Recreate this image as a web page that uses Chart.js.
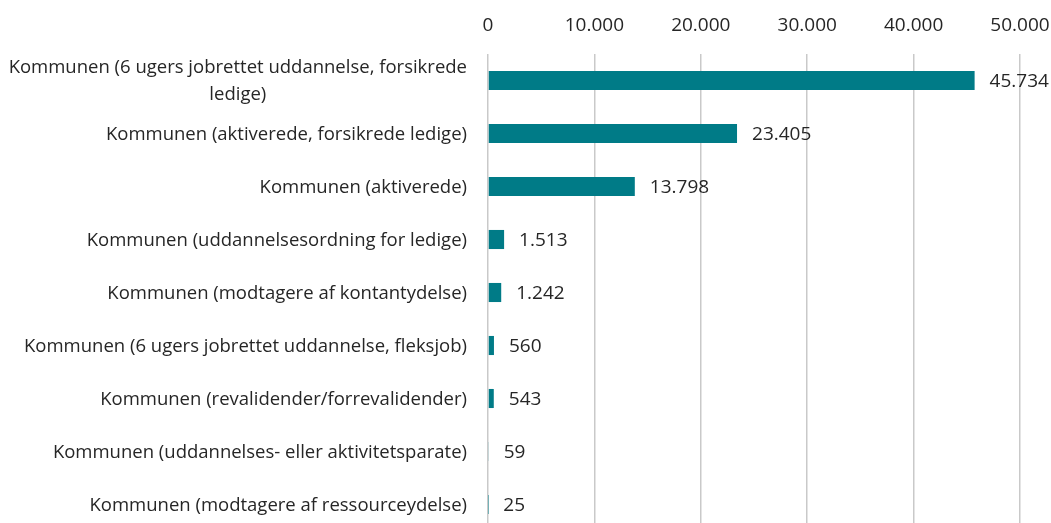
<!DOCTYPE html>
<html>
<head>
<meta charset="utf-8">
<script src="https://cdn.jsdelivr.net/npm/chart.js@4/dist/chart.umd.min.js"></script>
<style>
    html, body { margin: 0; padding: 0; background: #fff; overflow: hidden; }
    #wrap { width: 1051px; height: 531px; position: relative; }
</style>
</head>
<body>
<div id="wrap"><canvas id="barChart"></canvas></div>
<script>
// Kategorier og værdier
const kategorier = [
    ["Kommunen (6 ugers jobrettet uddannelse, forsikrede", "ledige)"],
    "Kommunen (aktiverede, forsikrede ledige)",
    "Kommunen (aktiverede)",
    "Kommunen (uddannelsesordning for ledige)",
    "Kommunen (modtagere af kontantydelse)",
    "Kommunen (6 ugers jobrettet uddannelse, fleksjob)",
    "Kommunen (revalidender/forrevalidender)",
    "Kommunen (uddannelses- eller aktivitetsparate)",
    "Kommunen (modtagere af ressourceydelse)",
];
const antal = [45734, 23405, 13798, 1513, 1242, 560, 543, 59, 25];
const aksePunkter = [0, 10000, 20000, 30000, 40000, 50000];

const tekstFarve = "#262626";
const skrift = "'Open Sans', sans-serif";

function formatTal(n) {
    return n.toString().replace(/\B(?=(\d{3})+(?!\d))/g, ".");
}

// Tegn kategorinavne (flerlinjede centreres i blokken, som i Excel)
const kategoriLabels = {
    id: "kategoriLabels",
    afterDraw(chart) {
        const ctx = chart.ctx;
        const y = chart.scales.y;
        const hoejre = y.right - 21;
        const linjeHoejde = 27;
        ctx.save();
        ctx.font = "18.5px " + skrift;
        ctx.fillStyle = tekstFarve;
        ctx.textBaseline = "middle";
        ctx.textAlign = "center";
        kategorier.forEach((lbl, i) => {
            const linjer = Array.isArray(lbl) ? lbl : [lbl];
            const bredde = Math.max(...linjer.map((l) => ctx.measureText(l).width));
            const cx = hoejre - bredde / 2;
            const cy = y.getPixelForTick(i) + 1;
            const start = cy - ((linjer.length - 1) * linjeHoejde) / 2;
            linjer.forEach((l, j) => ctx.fillText(l, cx, start + j * linjeHoejde));
        });
        ctx.restore();
    },
};

// Værdier ved enden af søjlerne
const vaerdiLabels = {
    id: "vaerdiLabels",
    afterDatasetsDraw(chart) {
        const ctx = chart.ctx;
        const meta = chart.getDatasetMeta(0);
        ctx.save();
        ctx.font = "19px " + skrift;
        ctx.fillStyle = tekstFarve;
        ctx.textBaseline = "middle";
        ctx.textAlign = "left";
        meta.data.forEach((bar, i) => {
            ctx.fillText(formatTal(antal[i]), bar.x + 15, bar.y + 1.5);
        });
        ctx.restore();
    },
};

document.addEventListener("DOMContentLoaded", function () {
    const el = document.getElementById("barChart");
    new Chart(el.getContext("2d"), {
        type: "bar",
        data: {
            labels: kategorier,
            datasets: [
                {
                    data: antal,
                    backgroundColor: "#007B87",
                    categoryPercentage: 1,
                    barPercentage: 0.36,
                },
            ],
        },
        options: {
            indexAxis: "y",
            responsive: true,
            maintainAspectRatio: false,
            animation: false,
            layout: { padding: { left: 0, top: 0, bottom: 0, right: 31 } },
            plugins: {
                legend: { display: false },
                tooltip: { enabled: false },
            },
            scales: {
                x: {
                    position: "top",
                    min: aksePunkter[0],
                    max: aksePunkter[aksePunkter.length - 1],
                    afterBuildTicks: (scale) => {
                        scale.ticks = aksePunkter.map((v) => ({ value: v }));
                    },
                    afterFit: (scale) => {
                        scale.height = 54;
                        // labels må gerne gå ud over plotområdet
                        scale.paddingLeft = 0;
                        scale.paddingRight = 0;
                    },
                    ticks: {
                        font: { family: skrift, size: 19 },
                        color: tekstFarve,
                        padding: 17,
                        maxRotation: 0,
                        callback: (v) => formatTal(v),
                    },
                    grid: {
                        color: "#c9c9c9",
                        lineWidth: 1.5,
                        drawTicks: false,
                    },
                    border: { display: false },
                },
                y: {
                    afterFit: (scale) => {
                        scale.width = 488;
                    },
                    ticks: { display: false },
                    grid: { display: false },
                    border: { display: false },
                },
            },
        },
        plugins: [kategoriLabels, vaerdiLabels],
    });
});
</script>
</body>
</html>
